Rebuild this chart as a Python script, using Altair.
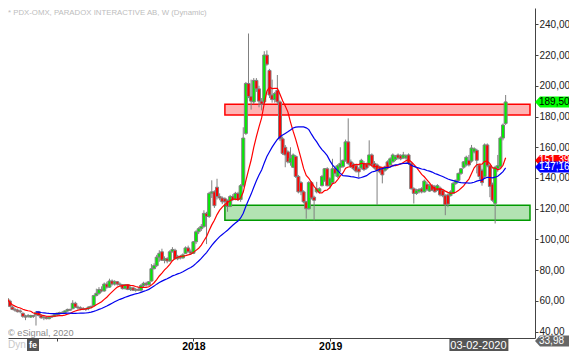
import altair as alt
import pandas as pd

# ---------------- data (weekly candles) ----------------
START = "2016-08-22"   # first weekly candle (Monday)

opens = [
    61, 60, 56, 54.5, 54, 53.5, 52, 50, 50, 49.5,
    50.5, 51, 53, 50.5, 49, 49.5, 48.5, 49.5, 50, 51,
    52, 52.5, 52.5, 53.5, 54.5, 55, 58.5, 56, 55.5, 55,
    54.5, 55, 56, 57, 63.5, 65, 67.5, 66.5, 71, 69,
    73, 71, 72.5, 71, 70.5, 68, 70.5, 67.5, 68.5, 67,
    67.5, 67, 70, 71.5, 70.5, 73, 81, 83, 88.5, 92,
    86.5, 87.5, 86, 92, 93, 87.5, 89, 88, 91, 94.5,
    92, 91, 98.5, 105, 107, 108.5, 117, 115, 130, 131,
    134, 128, 127, 126.5, 125.5, 121.5, 128, 126, 130, 126,
    135, 169, 201.5, 193, 189.5, 203.5, 198, 190, 189.5, 220,
    210, 194, 191, 197, 189.5, 165.5, 160, 157, 150, 147,
    154, 141, 137, 131, 124.5, 120, 137, 127.5, 131, 131,
    135, 138.5, 146, 135, 137, 146, 141, 147, 147.5, 151.5,
    163.5, 150.5, 149, 148, 146, 146.5, 149.5, 149, 148.5, 155,
    149.5, 148.5, 147, 146, 145, 150.5, 148.5, 150.5, 152, 155,
    154.5, 153, 153, 155, 149.5, 133, 130, 131, 133, 131,
    136, 131.5, 135, 134.5, 132, 133.5, 132, 128.5, 129, 128.5,
    130, 136.5, 138.5, 143, 147, 148.5, 151.5, 151, 157, 158,
    148.5, 145, 141, 161.5, 148, 136, 123.5, 146, 147.5, 166,
    175.5,
]
highs = [
    67, 61, 57, 55.5, 55, 54.5, 52.5, 51, 51.5, 51,
    51, 53.5, 53.5, 51.5, 50.5, 50, 50, 50.5, 51.5, 52.5,
    53, 53.5, 54, 55, 55, 60.5, 59.5, 57, 56.5, 56,
    55.5, 56.5, 57, 64, 68, 69, 69.5, 72, 72.5, 74.5,
    74, 73.5, 73, 72, 71, 71, 71, 69.5, 69, 68.5,
    69, 71, 72.5, 72.5, 73, 84, 84.5, 90, 93, 94,
    89, 88.5, 93, 95, 94, 90, 90, 91, 95.5, 96,
    93.5, 99, 106, 108, 110, 119, 118, 131, 138.5, 132,
    139.5, 130, 128, 127.5, 126, 129, 129.5, 131, 131, 136,
    173, 202.5, 234, 204, 205, 205, 200, 192, 222.5, 223,
    211, 204, 196, 207, 190.5, 167, 161.5, 158, 160, 156,
    155, 142, 138, 132, 125, 138, 138, 128.5, 137.5, 134,
    142, 146.5, 147, 140.5, 152.5, 148, 149, 160, 152, 165,
    178.8, 152, 150, 149, 147, 152.5, 151, 150, 164.5, 156,
    151, 149.5, 148, 147, 148, 151.5, 153.5, 156, 155, 156,
    155.5, 157, 155.5, 156, 150, 134, 133, 133.5, 134, 139,
    137.5, 136, 136, 135.5, 136, 134.5, 133, 129.5, 130, 132,
    137.5, 139, 143.5, 146.5, 151, 154.5, 155, 161.5, 160, 159,
    149, 146, 162.5, 162.5, 149, 137, 148, 155, 167, 175.5,
    194,
]
lows = [
    59.5, 56, 54, 53, 52.5, 52, 49, 47.5, 49, 49,
    49, 44, 50, 48.5, 47.5, 48, 48, 49, 49.5, 50,
    51, 51.5, 52, 53, 53.5, 54.5, 55.5, 54.5, 54, 54,
    53.5, 54, 55, 56.5, 63, 64, 65.5, 66, 68, 68.5,
    70, 70, 70, 69.5, 67.5, 67.5, 67, 66.5, 66.5, 66,
    66.5, 66, 69, 69.5, 70, 72.5, 80.5, 82, 85.5, 86,
    84.5, 84.5, 85.5, 91.5, 87, 86.5, 87, 87.5, 90.5, 91.5,
    90, 90.5, 97, 103.5, 105.5, 107.5, 97, 114, 127, 120.5,
    126, 125.5, 123, 123, 118, 121, 125, 125.5, 125, 124.5,
    134, 168, 192, 184.5, 188, 196, 186, 184, 188, 213,
    192, 189, 189, 188, 164, 155, 147, 149.5, 148, 146.5,
    140, 130, 128.8, 123.5, 113.5, 119.5, 126, 112.5, 130, 130,
    134.5, 137.5, 134.5, 133, 136, 141, 140, 144, 146.5, 150.5,
    148.5, 146.5, 145, 143.5, 140.5, 145.5, 144.5, 145.5, 147.5, 147.5,
    145.5, 122.3, 143, 136.5, 144, 145.5, 148, 150, 151, 152,
    151.5, 152.5, 152, 148.5, 132.5, 123.4, 129, 130, 130, 130.5,
    131.5, 131, 131.5, 130.5, 131.5, 128, 127.5, 115.8, 121, 128,
    129.5, 135.5, 137.5, 142, 146, 147.5, 147.5, 150, 156, 143,
    139, 135, 140, 147, 127.5, 124.5, 110.4, 144, 146.5, 164.5,
    174.5,
]
closes = [
    61.5, 56.5, 54.5, 54, 53, 53, 50, 49.5, 50.5, 50.5,
    50, 52.5, 50.5, 49, 49.5, 48.5, 49.5, 50, 51, 52,
    52.5, 52.5, 53.5, 54.5, 54, 58.5, 56, 55.5, 55, 54.5,
    55, 56, 56.5, 63.5, 65, 67.5, 66.5, 71, 69, 73,
    71, 72.5, 71, 70.5, 68, 70.5, 67.5, 68.5, 67, 67.5,
    67, 70, 71.5, 70.5, 72.5, 81, 83, 88.5, 91, 86.5,
    87.5, 86, 92, 93.5, 87.5, 89, 88, 90, 94.5, 92,
    91, 98.5, 105, 107, 108.5, 117, 115, 130, 131, 122,
    128, 127, 124.5, 124.5, 121.5, 128, 126, 130, 126, 135,
    166, 201.5, 193, 190, 203.5, 198, 190, 188, 220, 214,
    194, 191, 195, 189.5, 165.5, 156, 155, 150.5, 153, 155,
    141, 131, 131, 124.5, 120, 137, 127, 125.5, 133, 133,
    141, 146, 135, 139.5, 146, 143, 148, 149.5, 151.5, 163.5,
    149.5, 147.5, 146, 144.5, 144, 151.5, 145.5, 146.5, 155, 148.5,
    146.5, 145, 144, 142, 147, 146.5, 152.5, 155, 154, 153,
    152.5, 155, 154.5, 149.5, 133, 130, 132, 132.5, 131, 138,
    132.5, 135, 132, 131, 135, 129, 128.5, 122.5, 123, 131,
    136.5, 138.5, 143, 146, 150.5, 153.5, 148.5, 159.5, 159, 151.5,
    141, 137, 161.5, 148, 134.5, 125.5, 147, 148, 166, 174.5,
    189.5,
]

# moving-average lengths (weeks)
ma_fast_len = 10
ma_slow_len = 25

# support / resistance zones
zone_start = ["2018-03-26", "2018-03-26"]
zone_end = ["2020-06-17", "2020-06-17"]
zone_low = [181.0, 112.5]
zone_high = [188.0, 122.3]
zone_fill = ["#ffb3b3", "#b3e3b3"]
zone_stroke = ["#ff0000", "#009a00"]

# price tags on the right axis: last close, fast MA, slow MA, lower study value
tag_values = [189.50, 151.39, 147.16, 33.98]
tag_fill = ["#00ff00", "#ff0000", "#0000ff", "#666666"]
tag_text = ["#000000", "#ffffff", "#ffffff", "#ffffff"]

year_ticks = ["2017-01-01", "2018-01-01", "2019-01-01", "2020-01-01"]
price_ticks = [40, 60, 80, 100, 120, 140, 160, 180, 200, 220, 240]
cursor_date = "2020-02-03"
cursor_label = "03-02-2020"
title_text = "* PDX-OMX, PARADOX INTERACTIVE AB, W (Dynamic)"
credit_text = "\u00a9 eSignal, 2020"

X_DOMAIN = ["2016-09-06T16:00:00", "2020-06-17T00:00:00"]
Y_DOMAIN = [35.9, 250.6]
FONT = "Liberation Sans"
W, H = 527, 330


def ms(s):
    return int(pd.Timestamp(s, tz="UTC").value // 10**6)


dates = pd.date_range(START, periods=len(closes), freq="7D", tz="UTC")
candles = pd.DataFrame({
    "date": [int(d.value // 10**6) for d in dates],
    "open": opens, "high": highs, "low": lows, "close": closes,
})
zones = pd.DataFrame({
    "zs": [ms(s) for s in zone_start], "ze": [ms(s) for s in zone_end],
    "lo": zone_low, "hi": zone_high, "fill": zone_fill, "stroke": zone_stroke,
})
tags = pd.DataFrame({"v": tag_values, "fill": tag_fill, "tc": tag_text})
one = pd.DataFrame({"a": [0]})
cursor = pd.DataFrame({"d": [ms(cursor_date)], "t": [cursor_label]})

xscale = alt.Scale(type="utc", domain=[ms(s) for s in X_DOMAIN], nice=False)
yscale = alt.Scale(domain=Y_DOMAIN, nice=False, zero=False)

xaxis = alt.Axis(
    title=None, values=[ms(s) for s in year_ticks],
    labelExpr="indexof(['2018','2019'], utcFormat(datum.value,'%Y')) >= 0 ? utcFormat(datum.value,'%Y') : ''",
    labelFont=FONT, labelFontSize=10.5, labelFontWeight="bold", labelColor="#000000",
    domainColor="#444444", tickColor="#444444", tickSize=3, labelPadding=0,
    grid=False, labelFlush=False, labelOverlap=False,
)
yaxis = alt.Axis(
    orient="right", title=None, values=price_ticks,
    labelExpr="replace(format(datum.value, '.2f'), '.', ',')",
    labelFont=FONT, labelFontSize=10, labelColor="#222222",
    domainColor="#444444", tickColor="#444444", tickSize=3, labelPadding=1,
    grid=False, labelFlush=False, labelOverlap=False,
)

X = lambda f: alt.X(f, scale=xscale, axis=xaxis)
Y = lambda f: alt.Y(f, scale=yscale, axis=yaxis)

zone_layer = alt.Chart(zones).mark_rect(strokeWidth=1.5, clip=True).encode(
    x=X("zs:T"), x2="ze:T", y=Y("lo:Q"), y2="hi:Q",
    fill=alt.Fill("fill:N", scale=None), stroke=alt.Stroke("stroke:N", scale=None),
)

wicks = alt.Chart(candles).mark_rule(color="#808080", strokeWidth=1, clip=True).encode(
    x=X("date:T"), y=Y("low:Q"), y2="high:Q",
)

bodies = alt.Chart(candles).mark_bar(width=3, stroke="#808080", strokeWidth=1, clip=True).encode(
    x=X("date:T"), y=Y("open:Q"), y2="close:Q",
    fill=alt.condition("datum.close >= datum.open", alt.value("#00ee00"), alt.value("#ff0000")),
)

ma_fast = alt.Chart(candles).transform_window(
    ma="mean(close)", frame=[-(ma_fast_len - 1), 0], sort=[alt.SortField("date")]
).mark_line(color="#ff0000", strokeWidth=1.2, clip=True).encode(
    x=X("date:T"), y=Y("ma:Q"),
)

ma_slow = alt.Chart(candles).transform_window(
    ma="mean(close)", frame=[-(ma_slow_len - 1), 0], sort=[alt.SortField("date")]
).transform_window(
    idx="row_number()", sort=[alt.SortField("date")]
).transform_filter("datum.idx >= 12").mark_line(color="#0000ee", strokeWidth=1.2, clip=True).encode(
    x=X("date:T"), y=Y("ma:Q"),
)

TAG_PATH = "M0,0L5,-5.5L34,-5.5L34,5.5L5,5.5Z"
tag_shapes = alt.Chart(tags).mark_point(shape=TAG_PATH, size=4, filled=True, opacity=1, strokeWidth=0).encode(
    x=alt.value(W), y=Y("v:Q"), fill=alt.Fill("fill:N", scale=None),
)
tag_labels = alt.Chart(tags).transform_calculate(
    label="replace(format(datum.v, '.2f'), '.', ',')"
).mark_text(align="left", baseline="middle", font=FONT, fontSize=10).encode(
    x=alt.value(W + 4), y=Y("v:Q"), text="label:N", color=alt.Color("tc:N", scale=None),
)

title = alt.Chart(one).mark_text(
    align="left", baseline="top", font=FONT, fontSize=7.8, color="#bdbdbd", text=title_text
).encode(x=alt.value(0), y=alt.value(1))

credit = alt.Chart(one).mark_text(
    align="left", baseline="middle", font=FONT, fontSize=9.2, color="#8a8a8a", text=credit_text
).encode(x=alt.value(0), y=alt.value(325))

dyn = alt.Chart(one).mark_text(
    align="left", baseline="middle", font=FONT, fontSize=10, color="#c8c8c8", text="Dyn"
).encode(x=alt.value(0), y=alt.value(H + 7))
icon = alt.Chart(one).mark_rect(color="#555555").encode(
    x=alt.value(19), x2=alt.value(31), y=alt.value(H + 1), y2=alt.value(H + 13)
)
icon_t = alt.Chart(one).mark_text(
    align="center", baseline="middle", font=FONT, fontSize=9, fontWeight="bold", color="#ffffff", text="fe"
).encode(x=alt.value(25), y=alt.value(H + 7))

cursor_box = alt.Chart(cursor).mark_rect(color="#555555", xOffset=-30, x2Offset=29).encode(
    x=X("d:T"), x2="d:T", y=alt.value(H + 1), y2=alt.value(H + 13),
)
cursor_text = alt.Chart(cursor).mark_text(
    align="center", baseline="middle", font=FONT, fontSize=11, color="#ffffff", dx=-1
).encode(x=X("d:T"), y=alt.value(H + 7.5), text="t:N")

chart = alt.layer(
    zone_layer, wicks, bodies, ma_fast, ma_slow,
    tag_shapes, tag_labels, title, credit, dyn, icon, icon_t, cursor_box, cursor_text,
).properties(
    width=W, height=H,
    autosize=alt.AutoSizeParams(type="none"),
    padding={"left": 0, "top": 0, "right": 34, "bottom": 13},
    background="#ffffff",
).configure_view(stroke=None)

chart.save("out.html", embed_options={"renderer": "svg", "actions": False})
